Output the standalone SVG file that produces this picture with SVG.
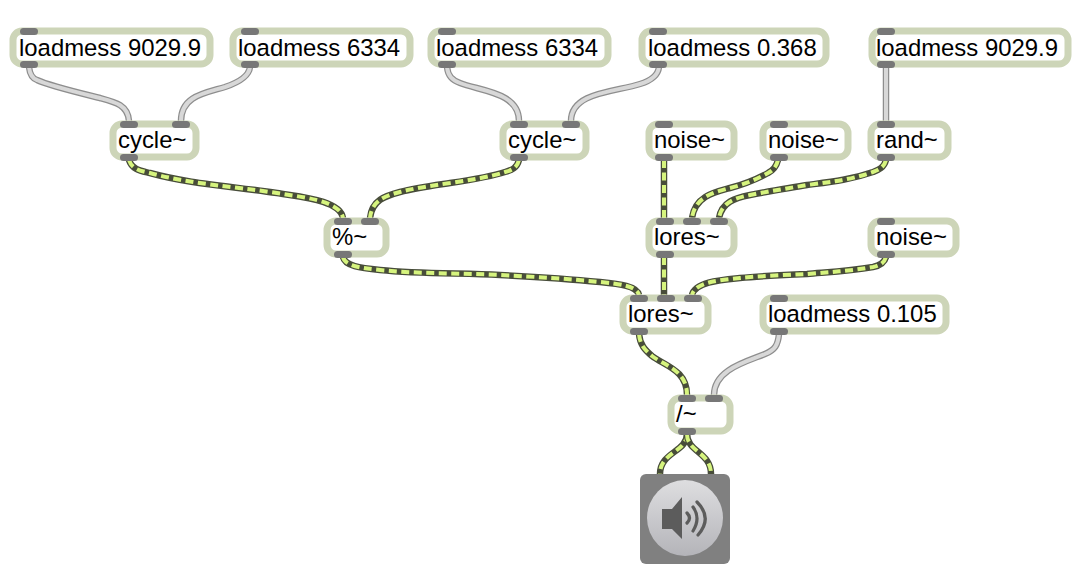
<svg xmlns="http://www.w3.org/2000/svg" width="1092" height="564" viewBox="0 0 1092 564">
<style>
.box{fill:#fff;stroke:#cdd5b8;stroke-width:7}
.port{fill:#777;height:7px;rx:3.5px}
text{font-family:"Liberation Sans",Arial,sans-serif;font-size:23.9px;fill:#000}
.w1,.w2,.s1,.s2{fill:none}
.w1{stroke:#8e8e8e;stroke-width:6.5}
.w2{stroke:#d8d8d8;stroke-width:4}
.s1{stroke:#484d3a;stroke-width:6.5}
.s2{stroke:#d6f47e;stroke-width:4;stroke-dasharray:8 4.5}
</style>
<defs>
<path id="a" d="M29 67C30 76 34 79 37 80C50 86 80 93 100 98C115 102 128 105 129 121"/>
<path id="b" d="M250 67C249 76 240 82 225 87C205 93 181 96 181 121"/>
<path id="c" d="M447 67C448 76 452 80 460 83C480 91 519 92 519 121"/>
<path id="d" d="M659 67C658 76 650 81 640 84C615 92 571 92 571 121"/>
<path id="e" d="M886 67V121"/>
<path id="f" d="M779 334C778 345 775 350 765 354C745 362 714 370 714 395"/>
<path id="g" d="M129 160C132 170 142 171 150 173C190 184 230 186 277 193C300 197 340 200 343 218"/>
<path id="h" d="M519 160C517 168 512 170 505 172C490 177 470 180 450 183C430 186 415 188 400 192C385 196 372 200 370 218"/>
<path id="i" d="M664 160V218"/>
<path id="j" d="M778 160C776 168 772 171 768 173C755 180 745 184 730 188C715 192 695 196 692 218"/>
<path id="k" d="M886 160C884 168 878 170 873 172C850 180 830 182 807 185C790 188 770 191 750 195C735 198 722 202 719 218"/>
<path id="l" d="M343 257C345 266 360 268 380 270C420 274 460 273 500 275C540 277 570 279 600 282C620 284 637 286 639 295"/>
<path id="m" d="M664 257V295"/>
<path id="n" d="M886 257C884 264 878 266 873 267C850 271 830 272 807 274C785 275 760 276 740 278C720 280 695 282 692 295"/>
<path id="o" d="M639 334C640 345 645 350 652 356C665 366 687 370 687 395"/>
<path id="p" d="M687 434C687 452 660 452 660 474"/>
<path id="q" d="M687 434C687 452 711 452 711 474"/>
</defs>
<g id="connectors">
<use href="#a" class="w1"/><use href="#a" class="w2"/>
<use href="#b" class="w1"/><use href="#b" class="w2"/>
<use href="#c" class="w1"/><use href="#c" class="w2"/>
<use href="#d" class="w1"/><use href="#d" class="w2"/>
<use href="#e" class="w1"/><use href="#e" class="w2"/>
<use href="#f" class="w1"/><use href="#f" class="w2"/>
<use href="#g" class="s1"/><use href="#g" class="s2"/>
<use href="#h" class="s1"/><use href="#h" class="s2"/>
<use href="#i" class="s1"/><use href="#i" class="s2"/>
<use href="#j" class="s1"/><use href="#j" class="s2"/>
<use href="#k" class="s1"/><use href="#k" class="s2"/>
<use href="#l" class="s1"/><use href="#l" class="s2"/>
<use href="#m" class="s1"/><use href="#m" class="s2"/>
<use href="#n" class="s1"/><use href="#n" class="s2"/>
<use href="#o" class="s1"/><use href="#o" class="s2"/>
<use href="#p" class="s1"/><use href="#p" class="s2"/>
<use href="#q" class="s1"/><use href="#q" class="s2"/>
</g>
<g id="n1"><rect class="box" x="13" y="31" width="197" height="33" rx="9"/><rect class="port" x="20" y="28" width="18" height="6"/><rect class="port" x="20" y="61" width="18" height="6"/><text x="19" y="56">loadmess 9029.9</text></g>
<g id="n2"><rect class="box" x="233" y="31" width="177" height="33" rx="9"/><rect class="port" x="241" y="28" width="18" height="6"/><rect class="port" x="241" y="61" width="18" height="6"/><text x="238" y="56">loadmess 6334</text></g>
<g id="n3"><rect class="box" x="431" y="31" width="177" height="33" rx="9"/><rect class="port" x="438" y="28" width="18" height="6"/><rect class="port" x="438" y="61" width="18" height="6"/><text x="436" y="56">loadmess 6334</text></g>
<g id="n4"><rect class="box" x="642" y="31" width="184" height="33" rx="9"/><rect class="port" x="649" y="28" width="18" height="6"/><rect class="port" x="649" y="61" width="18" height="6"/><text x="648" y="56">loadmess 0.368</text></g>
<g id="n5"><rect class="box" x="872" y="31" width="196" height="33" rx="9"/><rect class="port" x="877" y="28" width="18" height="6"/><rect class="port" x="877" y="61" width="18" height="6"/><text x="876" y="56">loadmess 9029.9</text></g>
<g id="n6"><rect class="box" x="113" y="124" width="83" height="33" rx="9"/><rect class="port" x="120" y="121" width="18" height="6"/><rect class="port" x="172" y="121" width="18" height="6"/><rect class="port" x="120" y="154" width="18" height="6"/><text x="118" y="148">cycle~</text></g>
<g id="n7"><rect class="box" x="503" y="124" width="83" height="33" rx="9"/><rect class="port" x="510" y="121" width="18" height="6"/><rect class="port" x="562" y="121" width="18" height="6"/><rect class="port" x="510" y="154" width="18" height="6"/><text x="508" y="148">cycle~</text></g>
<g id="n8"><rect class="box" x="649" y="124" width="85" height="33" rx="9"/><rect class="port" x="655" y="121" width="18" height="6"/><rect class="port" x="655" y="154" width="18" height="6"/><text x="654" y="148">noise~</text></g>
<g id="n9"><rect class="box" x="763" y="124" width="85" height="33" rx="9"/><rect class="port" x="770" y="121" width="18" height="6"/><rect class="port" x="770" y="154" width="18" height="6"/><text x="768" y="148">noise~</text></g>
<g id="n10"><rect class="box" x="871" y="124" width="77" height="33" rx="9"/><rect class="port" x="877" y="121" width="18" height="6"/><rect class="port" x="877" y="154" width="18" height="6"/><text x="876" y="148">rand~</text></g>
<g id="n11"><rect class="box" x="327" y="221" width="59" height="33" rx="9"/><rect class="port" x="334" y="218" width="18" height="6"/><rect class="port" x="361" y="218" width="18" height="6"/><rect class="port" x="334" y="251" width="18" height="6"/><text x="332" y="245">%~</text></g>
<g id="n12"><rect class="box" x="649" y="221" width="85" height="33" rx="9"/><rect class="port" x="656" y="218" width="18" height="6"/><rect class="port" x="683" y="218" width="18" height="6"/><rect class="port" x="710" y="218" width="18" height="6"/><rect class="port" x="656" y="251" width="18" height="6"/><text x="654" y="245">lores~</text></g>
<g id="n13"><rect class="box" x="871" y="221" width="85" height="33" rx="9"/><rect class="port" x="877" y="218" width="18" height="6"/><rect class="port" x="877" y="251" width="18" height="6"/><text x="876" y="245">noise~</text></g>
<g id="n14"><rect class="box" x="623" y="298" width="85" height="33" rx="9"/><rect class="port" x="630" y="295" width="18" height="6"/><rect class="port" x="657" y="295" width="18" height="6"/><rect class="port" x="684" y="295" width="18" height="6"/><rect class="port" x="630" y="328" width="18" height="6"/><text x="628" y="322">lores~</text></g>
<g id="n15"><rect class="box" x="763" y="298" width="183" height="33" rx="9"/><rect class="port" x="770" y="295" width="18" height="6"/><rect class="port" x="770" y="328" width="18" height="6"/><text x="768" y="322">loadmess 0.105</text></g>
<g id="n16"><rect class="box" x="671" y="398" width="59" height="33" rx="9"/><rect class="port" x="678" y="395" width="18" height="6"/><rect class="port" x="705" y="395" width="18" height="6"/><rect class="port" x="678" y="428" width="18" height="6"/><text x="676" y="422">/~</text></g>
<g id="n17">
<defs><linearGradient id="dg" x1="0" y1="0" x2="0" y2="1"><stop offset="0" stop-color="#dedee0"/><stop offset="1" stop-color="#b4b4b9"/></linearGradient></defs>
<rect x="640" y="474" width="90" height="90" rx="6" fill="#808080"/>
<circle cx="685" cy="518" r="38" fill="url(#dg)"/>
<polygon points="662,509 672,509 682,497 682,539 672,529 662,529" fill="#5c5c5c"/>
<path d="M687 513Q692 518 687 523M693 507Q701 518 693 531M697 502Q713 518 698 535" fill="none" stroke="#5c5c5c" stroke-width="3.2" stroke-linecap="round"/>
</g>
</svg>
